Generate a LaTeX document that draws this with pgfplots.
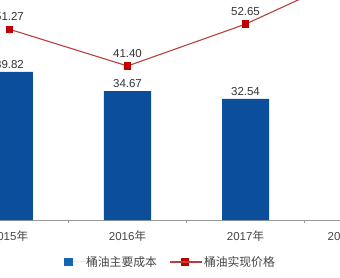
\documentclass[border=0pt]{standalone}
\usepackage{pgfplots}
\pgfplotsset{compat=1.18}
\usepackage{fontspec}
\setmainfont{Liberation Sans}
\newfontfamily\cjk{Noto Sans CJK SC}
\definecolor{barblue}{HTML}{0B4F9C}
\definecolor{legblue}{HTML}{1466B4}
\definecolor{lred}{HTML}{B4403F}
\definecolor{mred}{HTML}{C00000}
\definecolor{txt}{HTML}{333333}
\definecolor{tick}{HTML}{454545}
\begin{document}
\begin{tikzpicture}[x=1pt,y=1pt]
\useasboundingbox (0,0) rectangle (340,277);
\clip (0,0) rectangle (340,277);
\begin{axis}[
  at={(-49.5pt,57pt)}, anchor=south west,
  scale only axis, width=472pt, height=297.6pt,
  xmin=-0.5, xmax=3.5, ymin=0, ymax=80,
  /pgf/number format/assume math mode=true,
  axis x line=bottom, axis y line=none,
  x axis line style={-, draw=gray!80, line width=0.6pt},
  xtick={0,1,2,3},
  xticklabels={2015{\cjk 年},2016{\cjk 年},2017{\cjk 年},2018{\cjk 年上半年}},
  major x tick style={draw=none},
  minor xtick={0.5,1.5,2.5},
  minor x tick style={draw=gray!80, line width=0.6pt},
  minor tick length=3pt,
  tick align=outside,
  xticklabel style={font=\fontsize{11.5}{13}\selectfont, text=tick, yshift=-3pt},
  clip=true,
  legend columns=2,
  legend style={at={(0.465,-0.141)}, anchor=center, draw=none, fill=none,
    font=\fontsize{11.8}{13}\selectfont\cjk, text=tick,
    nodes={inner sep=1pt},
    /tikz/every even column/.append style={column sep=12pt}},
]
\addplot[ybar, bar width=47pt, bar shift=0pt, fill=barblue, draw=none,
  legend image code/.code={\fill[legblue] (0pt,-4pt) rectangle (9pt,4pt); \path (0pt,0pt) -- (21pt,0pt);},
  nodes near coords={\pgfmathprintnumber[fixed,fixed zerofill,precision=2]{\pgfplotspointmeta}},
  every node near coord/.append style={font=\fontsize{11.5}{13}\selectfont, text=txt, yshift=0pt}]
  coordinates {(0,39.82) (1,34.67) (2,32.54) (3,31.83)};
\addlegendentry{桶油主要成本}
\addplot[lred, line width=1.1pt, mark=square*, mark size=3.2pt,
  mark options={fill=mred, draw=mred},
  legend image code/.code={\draw[lred, line width=1.1pt] (0pt,0pt) -- (29pt,0pt); \fill[mred] (11pt,-3.3pt) rectangle (17.6pt,3.3pt); \path (0pt,0pt) -- (32pt,0pt);},
  nodes near coords={\pgfmathprintnumber[fixed,fixed zerofill,precision=2]{\pgfplotspointmeta}},
  every node near coord/.append style={font=\fontsize{11.5}{13}\selectfont, text=txt, yshift=5pt}]
  coordinates {(0,51.27) (1,41.40) (2,52.65) (3,67.22)};
\addlegendentry{桶油实现价格}
\end{axis}
\end{tikzpicture}
\end{document}
